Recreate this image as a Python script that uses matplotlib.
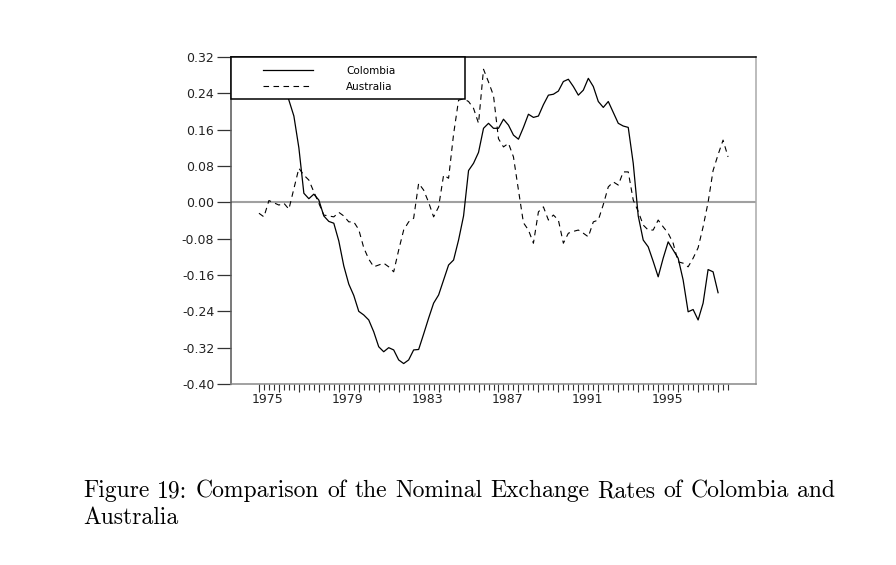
import matplotlib
matplotlib.use('Agg')
import matplotlib.pyplot as plt
from matplotlib.patches import Rectangle
from matplotlib.ticker import FixedLocator
import numpy as np

# quarterly data, 1975:1 onwards
start_year = 1975
colombia = [0.33, 0.34, 0.33, 0.31, 0.29, 0.26, 0.225, 0.190, 0.120, 0.020,
            0.008, 0.018, 0.005, -0.030, -0.042, -0.046, -0.085, -0.140, -0.180, -0.205,
            -0.240, -0.248, -0.259, -0.285, -0.318, -0.329, -0.320, -0.325, -0.347, -0.355,
            -0.347, -0.325, -0.324, -0.290, -0.255, -0.222, -0.204, -0.171, -0.138, -0.127,
            -0.083, -0.030, 0.070, 0.086, 0.110, 0.163, 0.174, 0.163, 0.163, 0.183,
            0.170, 0.148, 0.139, 0.165, 0.194, 0.187, 0.190, 0.215, 0.236, 0.238,
            0.245, 0.266, 0.271, 0.255, 0.236, 0.247, 0.273, 0.255, 0.222, 0.209,
            0.222, 0.198, 0.174, 0.168, 0.165, 0.086, -0.030, -0.083, -0.098, -0.130,
            -0.164, -0.123, -0.087, -0.105, -0.123, -0.171, -0.241, -0.236, -0.259, -0.222,
            -0.148, -0.153, -0.199]
australia = [-0.024, -0.032, 0.004, -0.001, -0.006, -0.002, -0.015, 0.030, 0.075, 0.060,
             0.049, 0.023, -0.002, -0.028, -0.030, -0.032, -0.022, -0.030, -0.043, -0.043,
             -0.060, -0.100, -0.125, -0.142, -0.138, -0.134, -0.142, -0.153, -0.105, -0.061,
             -0.043, -0.035, 0.042, 0.027, 0.000, -0.032, -0.010, 0.060, 0.053, 0.150,
             0.225, 0.228, 0.222, 0.207, 0.174, 0.293, 0.265, 0.235, 0.140, 0.122,
             0.130, 0.100, 0.027, -0.045, -0.061, -0.090, -0.021, -0.010, -0.039, -0.028,
             -0.039, -0.090, -0.068, -0.064, -0.061, -0.068, -0.076, -0.043, -0.039, -0.005,
             0.034, 0.045, 0.038, 0.067, 0.067, 0.005, -0.020, -0.050, -0.061, -0.061,
             -0.039, -0.054, -0.068, -0.090, -0.131, -0.134, -0.142, -0.123, -0.100, -0.054,
             0.000, 0.070, 0.105, 0.137, 0.100]
ytick_vals = [-0.40, -0.32, -0.24, -0.16, -0.08, 0.00, 0.08, 0.16, 0.24, 0.32]
ytick_labels = ['-0.40', '-0.32', '-0.24', '-0.16', '-0.08', '0.00', '0.08', '0.16', '0.24', '0.32']
xlabel_years = [1975, 1979, 1983, 1987, 1991, 1995]
caption1 = 'Figure 19:  Comparison of the Nominal Exchange Rates of Colombia and'
caption2 = 'Australia'

x_col = start_year + np.arange(len(colombia)) / 4
x_aus = start_year + np.arange(len(australia)) / 4

fig = plt.figure(figsize=(8.96, 5.65), dpi=100)
ax = fig.add_axes([231 / 896, 181 / 565, 525 / 896, 327 / 565])

ax.axhline(0, color='#a0a0a0', lw=1.5, zorder=1)
l1, = ax.plot(x_col, colombia, color='black', lw=0.9, label='Colombia', zorder=2)
l2, = ax.plot(x_aus, australia, color='black', lw=0.8, ls=(0, (5, 4)), label='Australia', zorder=2)

ax.set_xlim(1973.6, 1999.9)
ax.set_ylim(-0.40, 0.32)

ax.set_yticks(ytick_vals)
ax.set_yticklabels(ytick_labels, fontsize=9, color='#222222')
ax.tick_params(axis='y', direction='out', length=10, width=0.9, pad=2, color='#333333')

ax.xaxis.set_major_locator(FixedLocator(np.arange(1975, 1999, 1)))
ax.xaxis.set_minor_locator(FixedLocator(np.arange(1975, 1998.6, 0.25)))
ax.set_xticklabels([])
ax.tick_params(axis='x', which='major', direction='out', length=6, width=0.8, color='#333333')
ax.tick_params(axis='x', which='minor', direction='out', length=4, width=0.8, color='#333333')
for yr in xlabel_years:
    ax.text(yr + 0.45, -0.028, str(yr), transform=ax.get_xaxis_transform(),
            ha='center', va='top', fontsize=9, color='#222222')

ax.spines['top'].set_color('black')
ax.spines['left'].set_color('#555555')
ax.spines['bottom'].set_color('#888888')
ax.spines['right'].set_color('#aaaaaa')
for s in ax.spines.values():
    s.set_linewidth(1.1)

# legend box
ax.add_patch(Rectangle((0, 1 - 42 / 327), 234 / 525, 42 / 327, transform=ax.transAxes,
                       facecolor='white', edgecolor='black', lw=1.1, zorder=4, clip_on=False))
ax.legend(handles=[l1, l2], loc='upper left', bbox_to_anchor=(32 / 525, 1 - 9 / 327),
          frameon=False, borderpad=0, borderaxespad=0, fontsize=7.5,
          handlelength=4.8, handletextpad=3.2, labelspacing=0.55)

# caption, justified like the original
fig.canvas.draw()
renderer = fig.canvas.get_renderer()
words = [w for w in caption1.split(' ') if w]
objs = []
widths = []
for w in words:
    t = fig.text(0, 0, w, fontfamily='cmr10', fontsize=17, va='baseline')
    objs.append(t)
    widths.append(t.get_window_extent(renderer).width)
left, right = 83, 835
gap = (right - left - sum(widths)) / (len(words) - 1)
xpos = left
for t, w in zip(objs, widths):
    t.set_position((xpos / 896, (565 - 497) / 565))
    xpos += w + gap
fig.text(83 / 896, (565 - 524) / 565, caption2, fontfamily='cmr10', fontsize=17, va='baseline')

fig.savefig('out.png', dpi=100)
